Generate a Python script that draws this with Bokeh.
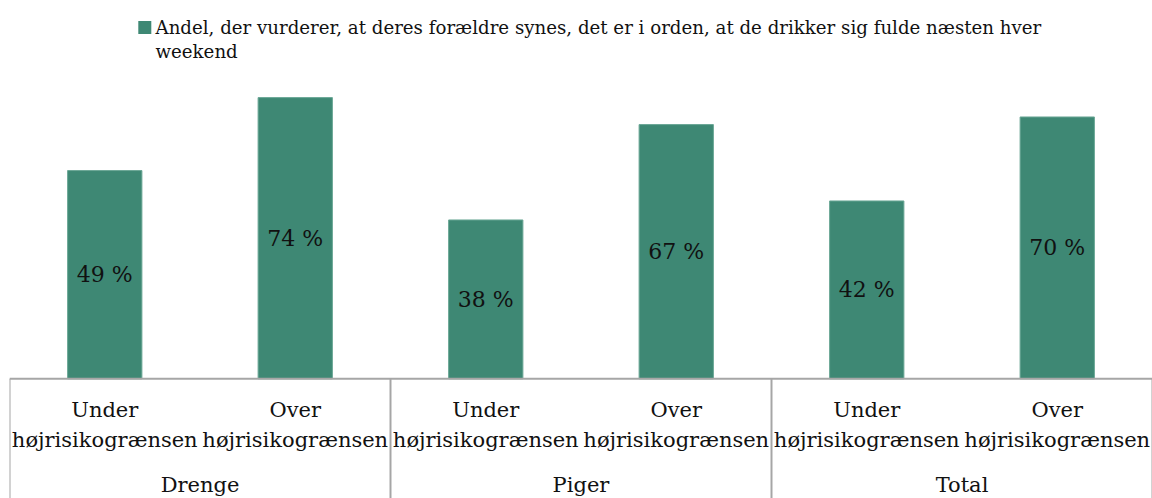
from bokeh.plotting import figure
from bokeh.models import Range1d, ColumnDataSource, Label
from bokeh.core.properties import value
from bokeh.embed import file_html
from bokeh.resources import INLINE

# ---- data ----
groups = ["Drenge", "Piger", "Total"]
sub_line1 = ["Under", "Over"]
sub_line2 = ["højrisikogrænsen", "højrisikogrænsen"]
bar_heights = [54.8, 74.0, 41.8, 66.9, 46.8, 68.9]   # heights as drawn
bar_labels = ["49 %", "74 %", "38 %", "67 %", "42 %", "70 %"]
legend_lines = ["Andel, der vurderer, at deres forældre synes, det er i orden, at de drikker sig fulde næsten hver",
                "weekend"]

FONT = value("DejaVu Serif")
BAR_COLOR = "#3e8874"
LINE_COLOR = "#a6a6a6"
TEXT_COLOR = "#111111"

W, H = 1152, 498
PAGE_TOP = 0
BASE = 378.3          # page y of the baseline
PX = 3.8              # px per unit
FRAME_LEFT = 9
CW = (W - FRAME_LEFT) / 6.0


def ypx(p):
    return (BASE - p) / PX


def xpx(p):
    return (p - FRAME_LEFT) / CW - 0.5


n = len(bar_heights)
xs = list(range(n))

p = figure(width=W, height=H, output_backend="svg", toolbar_location=None,
           x_range=Range1d(-0.5, n - 0.5), y_range=Range1d(ypx(PAGE_TOP + H), ypx(PAGE_TOP)),
           x_axis_type=None, y_axis_type=None, min_border=0, min_border_left=FRAME_LEFT)
p.outline_line_color = None
p.grid.visible = False
p.background_fill_color = "white"
p.border_fill_color = "white"

src = ColumnDataSource(dict(x=xs, top=bar_heights, mid=[h / 2 for h in bar_heights], lab=bar_labels))
p.vbar(x="x", top="top", bottom=0, width=0.39, source=src,
       fill_color=BAR_COLOR, line_color="#6aa795", line_width=1)

p.text(x="x", y="mid", text="lab", source=src, text_font=FONT, text_font_size="22px",
       text_align="center", text_baseline="middle", text_color=TEXT_COLOR)

# axis lines
p.segment(x0=[-0.5], y0=[0], x1=[n - 0.5], y1=[0], line_color=LINE_COLOR, line_width=2)
ng = len(groups)
sep_x = [-0.5 + 2 * g for g in range(ng + 1)]
p.segment(x0=sep_x, y0=[0] * len(sep_x), x1=sep_x, y1=[ypx(PAGE_TOP + H + 5)] * len(sep_x),
          line_color=LINE_COLOR, line_width=2)

# category labels
l1 = [sub_line1[i % 2] for i in xs]
l2 = [sub_line2[i % 2] for i in xs]
p.text(x=xs, y=[ypx(409.0)] * n, text=l1, text_font=FONT, text_font_size="21px",
       text_align="center", text_baseline="alphabetic", text_color=TEXT_COLOR)
p.text(x=xs, y=[ypx(439.6)] * n, text=l2, text_font=FONT, text_font_size="21px",
       text_align="center", text_baseline="alphabetic", text_color=TEXT_COLOR)
gx = [2 * g + 0.5 for g in range(ng)]
p.text(x=gx, y=[ypx(484.5)] * ng, text=groups, text_font=FONT, text_font_size="21px",
       text_align="center", text_baseline="alphabetic", text_color=TEXT_COLOR)

# legend
p.rect(x=[xpx(144.3)], y=[ypx(27.0)], width=[13 / CW], height=[13 / PX],
       fill_color=BAR_COLOR, line_color=None)
for i, t in enumerate(legend_lines):
    p.add_layout(Label(x=xpx(155), y=ypx(26.5 + 24.5 * i), text=t, text_font="DejaVu Serif",
                       text_font_size="18.2px", text_align="left", text_baseline="alphabetic",
                       text_color=TEXT_COLOR))

open("out.html", "w").write(file_html(p, INLINE))
